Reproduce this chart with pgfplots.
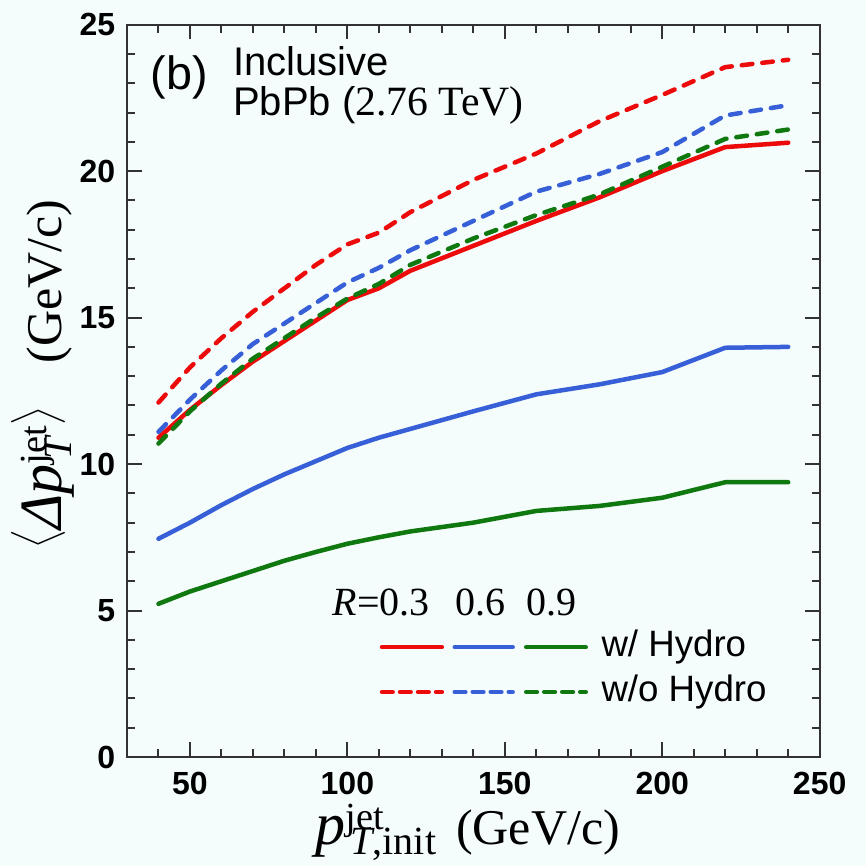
\documentclass[border=0pt]{standalone}
\usepackage{fontspec}
\setmainfont{Liberation Serif}
\newfontfamily\arial{Liberation Sans}
\usepackage{amsmath}
\usepackage{xcolor}
\usepackage{pgfplots}
\pgfplotsset{compat=1.18}
\definecolor{bgcyan}{RGB}{244,252,252}
\definecolor{hred}{RGB}{236,10,10}
\definecolor{hblue}{RGB}{55,95,215}
\definecolor{hgreen}{RGB}{15,120,15}
\definecolor{axgray}{RGB}{50,50,50}

% label pieces: big letter, raised superscript, lowered subscript
\newcommand\lbig[1]{{\fontsize{18}{18}\selectfont\textit{#1}}}
\newcommand\lsup[1]{\raisebox{4.5pt}{\fontsize{11.5}{12}\selectfont #1}}
\newcommand\lsub[1]{\raisebox{-3pt}{\fontsize{12}{12}\selectfont\kern1.5pt #1}}
\newcommand\ang[1]{\raisebox{4.9pt}{\fontsize{9.5}{10}\selectfont$#1$}}

\pgfplotstableread{
x    r3h    r6h    r9h    r3n    r6n    r9n
40   10.9   7.45   5.23   12.1   11.1   10.7
50   11.85  8.0    5.65   13.3   12.2   11.8
60   12.7   8.6    6.0    14.3   13.2   12.75
70   13.5   9.15   6.35   15.2   14.1   13.6
80   14.2   9.65   6.7    16.0   14.8   14.3
90   14.9   10.1   7.0    16.8   15.5   15.0
100  15.6   10.55  7.28   17.5   16.2   15.65
110  16.0   10.9   7.5    17.9   16.7   16.15
120  16.6   11.2   7.7    18.6   17.3   16.8
140  17.45  11.8   8.0    19.7   18.3   17.7
160  18.3   12.38  8.4    20.6   19.3   18.5
180  19.1   12.72  8.57   21.7   19.9   19.2
200  20.0   13.14  8.85   22.6   20.65  20.15
220  20.82  13.97  9.38   23.55  21.9   21.1
240  20.97  14.0   9.38   23.8   22.25  21.42
}\eloss

\begin{document}
\begin{tikzpicture}
\fill[bgcyan] (-38.1pt,-32.7pt) rectangle (221.7pt,227.1pt);
\begin{axis}[
    at={(0,0)}, anchor=south west,
    scale only axis, width=207.8pt, height=219.7pt,
    xmin=30, xmax=250, ymin=0, ymax=25,
    xtick={50,100,...,250}, ytick={0,5,...,25},
    minor xtick={40,50,...,240}, minor ytick={1,2,...,24},
    tick align=inside,
    major tick length=4.4pt, minor tick length=2.4pt,
    axis line style={line width=0.6pt, axgray},
    every tick/.style={line width=0.6pt, axgray},
    /pgf/number format/assume math mode=true,
    tick label style={font=\arial\bfseries\fontsize{9.6}{10}\selectfont},
    xticklabel style={yshift=-1pt},
    xlabel={\lbig{p}\rlap{\lsup{jet}}\lsub{\textit{T},init}\hspace{6pt}{\fontsize{15}{15}\selectfont (GeV/c)}},
    ylabel={\ang{\Bigl\langle}\lbig{Δp}\rlap{\lsub{\textit{T}}}\lsup{jet}\ang{\Bigr\rangle}\hspace{13pt}{\fontsize{15}{15}\selectfont (GeV/c)}},
    xlabel style={at={(axis description cs:0.492,-0.12)}, anchor=base},
    ylabel style={at={(axis description cs:-0.094,0.523)}, anchor=base},
    every axis plot/.style={line width=1.35pt, line cap=round, line join=round},
    hdash/.style={dash pattern=on 3.2pt off 3pt},
  ]
  \addplot[hred]   table[x=x, y=r3h] {\eloss};
  \addplot[hblue]  table[x=x, y=r6h] {\eloss};
  \addplot[hgreen] table[x=x, y=r9h] {\eloss};
  \addplot[hred, hdash]   table[x=x, y=r3n] {\eloss};
  \addplot[hblue, hdash]  table[x=x, y=r6n] {\eloss};
  \addplot[hgreen, hdash] table[x=x, y=r9n] {\eloss};

  % panel text
  \node[anchor=west, inner sep=0pt, font=\arial\fontsize{14}{16}\selectfont] at (axis cs:37.3,23.2) {(b)};
  \node[anchor=base west, inner sep=0pt, font=\arial\fontsize{12}{13}\selectfont] at (axis cs:63.5,23.27) {Inclusive};
  \node[anchor=base west, inner sep=0pt, font=\arial\fontsize{12}{13}\selectfont] at (axis cs:63.5,21.9) {PbPb ({\rmfamily\fontsize{12.5}{13}\selectfont 2.76 TeV)}};

  % legend
  \node[anchor=base west, inner sep=0pt, font=\fontsize{12}{13}\selectfont] at (axis cs:95.2,4.84) {\textit{R}=0.3};
  \node[anchor=base west, inner sep=0pt, font=\fontsize{12}{13}\selectfont] at (axis cs:134.1,4.84) {0.6};
  \node[anchor=base west, inner sep=0pt, font=\fontsize{12}{13}\selectfont] at (axis cs:156.8,4.84) {0.9};
  \draw[hred, line width=1.35pt, line cap=round] (axis cs:111,3.75) -- (axis cs:130,3.75);
  \draw[hblue, line width=1.35pt, line cap=round] (axis cs:134.1,3.75) -- (axis cs:152.5,3.75);
  \draw[hgreen, line width=1.35pt, line cap=round] (axis cs:156.8,3.75) -- (axis cs:175.7,3.75);
  \draw[hred, line width=1.35pt, line cap=round, dash pattern=on 3.2pt off 2.2pt] (axis cs:111,2.22) -- (axis cs:130,2.22);
  \draw[hblue, line width=1.35pt, line cap=round, dash pattern=on 3.2pt off 2.2pt] (axis cs:134.1,2.22) -- (axis cs:152.5,2.22);
  \draw[hgreen, line width=1.35pt, line cap=round, dash pattern=on 3.2pt off 2.2pt] (axis cs:156.8,2.22) -- (axis cs:175.7,2.22);
  \node[anchor=west, inner sep=0pt, font=\arial\fontsize{11}{12}\selectfont] at (axis cs:180.5,3.75) {w/ Hydro};
  \node[anchor=west, inner sep=0pt, font=\arial\fontsize{11}{12}\selectfont] at (axis cs:180.5,2.22) {w/o Hydro};
\end{axis}
\pgfresetboundingbox
\useasboundingbox (-38.1pt,-32.7pt) rectangle (221.7pt,227.1pt);
\end{tikzpicture}
\end{document}
